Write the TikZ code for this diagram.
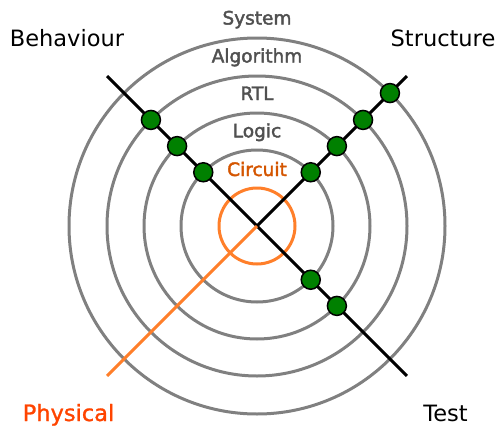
\documentclass[tikz,border=0pt]{standalone}
\usepackage{fontspec}
\setmainfont{DejaVu Sans}
\newfontfamily\ringfont[FakeBold=2.2]{DejaVu Sans}
\newfontfamily\physfont[FakeBold=1.2]{DejaVu Sans}

\definecolor{ringgray}{RGB}{128,128,128}
\definecolor{lvltext}{RGB}{80,80,80}
\definecolor{circuitor}{RGB}{212,85,0}
\definecolor{physor}{RGB}{255,68,0}
\definecolor{orline}{RGB}{255,127,42}
\definecolor{dotgreen}{RGB}{0,128,0}

\begin{document}
\begin{tikzpicture}[
  x=1pt, y=-1pt,
  ring/.style={draw=ringgray, line width=3pt},
  axis/.style={draw=black, line width=3pt},
  dot/.style={circle, draw=black, fill=dotgreen, line width=1.5pt, minimum size=19pt, inner sep=0pt},
  lvl/.style={anchor=base, text=lvltext, font=\ringfont\fontsize{18.5}{20}\selectfont},
  view/.style={anchor=base, font=\fontsize{22.5}{26}\selectfont}
]
\useasboundingbox (0,0) rectangle (501,426);
\coordinate (o) at (257,226);

% rings
\foreach \r in {76,113,150,188}
  \draw[ring] (o) circle (\r);
\draw[orline, line width=3pt] (o) circle (38);

% axes
\path (o) ++(-135:212) coordinate (bEnd);
\path (o) ++(-45:212) coordinate (sEnd);
\path (o) ++(45:212) coordinate (tEnd);
\path (o) ++(135:212) coordinate (pEnd);
\draw[axis] (bEnd) -- (tEnd);
\draw[axis] (o) -- (sEnd);
\draw[orline, line width=3pt] (o) -- (pEnd);

% dots
\foreach \r/\n in {76/1,113/2,150/3}
  \path (o) ++(-135:\r) node[dot] (b\n) {};
\foreach \r/\n in {76/1,113/2,150/3,188/4}
  \path (o) ++(-45:\r) node[dot] (s\n) {};
\foreach \r/\n in {76/1,113/2}
  \path (o) ++(45:\r) node[dot] (t\n) {};

% levels
\node[lvl] (sys) at (257,24.5) {System};
\node[lvl] (alg) at (257,62.5) {Algorithm};
\node[lvl] (rtl) at (257,100) {RTL};
\node[lvl] (log) at (257,137.3) {Logic};
\node[lvl, text=circuitor] (cir) at (257,176) {Circuit};

% views
\node[view] (beh) at (67,46.5) {Behaviour};
\node[view] (str) at (443,46.5) {Structure};
\node[view, text=physor, font=\physfont\fontsize{22.5}{26}\selectfont] (phy) at (68.5,421) {Physical};
\node[view] (tst) at (445.5,421.5) {Test};
\end{tikzpicture}
\end{document}
